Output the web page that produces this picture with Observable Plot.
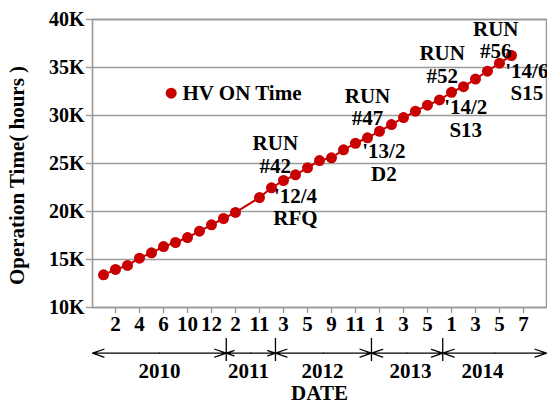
<!DOCTYPE html>
<html><head><meta charset="utf-8">
<script src="https://cdn.jsdelivr.net/npm/d3@7"></script>
<script src="https://cdn.jsdelivr.net/npm/@observablehq/plot@0.6"></script>
<style>
body{margin:0;background:#fff}
#chart svg{display:block}
</style>
</head><body><div id="chart"></div>
<script>
// month slots (one per measurement, slot 12 has no reading)
const slots = [0,1,2,3,4,5,6,7,8,9,10,11,13,14,15,16,17,18,19,20,21,22,23,24,25,26,27,28,29,30,31,32,33,34];
const hvOnHours = [13400,13960,14380,15140,15700,16350,16770,17290,17950,18610,19270,19900,
  21450,22470,23230,23820,24550,25310,25590,26430,27110,27680,
  28360,29060,29780,30450,31070,31620,32420,33000,33800,34620,35450,36250];

const tickSlots = [1,3,5,7,9,11,13,15,17,19,21,23,25,27,29,31,33,35];
const tickLabels = ["2","4","6","10","12","2","11","3","5","9","11","1","3","5","1","3","5","7"];
const yTicks = [10000,15000,20000,25000,30000,35000,40000];

const years = ["2010","2011","2012","2013","2014"];
const yearBreaks = [10.23, 14.33, 22.33, 28.27];
const yearCenters = [4.66, 12.08, 18.25, 25.58, 31.58];

const annoText = ["RUN\n#42","'12/4\nRFQ","RUN\n#47","'13/2\nD2","RUN\n#52","'14/2\nS13","RUN\n#56","'14/6\nS15"];
const annoSlot = [14.32,16.0,22.0,23.36,28.22,30.19,32.69,35.28];
const annoHours = [25953,20484,30906,25141,35328,29708,37896,33521];

const xDomain = [-0.917, 36.917];
const red = "#c80000";
const grey = "#9a9a9a";
const font = {fontFamily: "Liberation Serif, Times New Roman, serif", fontWeight: "bold", fontSize: "21px", background: "#fff"};

const points = slots.map((s, i) => ({slot: s, hours: hvOnHours[i]}));
const annos = annoText.map((t, i) => ({text: t, slot: annoSlot[i], hours: annoHours[i]}));

const main = Plot.plot({
  width: 547, height: 335,
  marginLeft: 92, marginRight: 1, marginTop: 19, marginBottom: 28,
  style: font,
  x: {domain: xDomain},
  y: {domain: [10000, 40000]},
  marks: [
    Plot.gridY(yTicks, {stroke: grey, strokeOpacity: 1, strokeWidth: 1.4}),
    Plot.frame({stroke: grey, strokeWidth: 1.6}),
    Plot.axisY({ticks: yTicks, tickFormat: d => d / 1000 + "K", tickSize: 6, tickPadding: 2, stroke: grey, strokeWidth: 1.4, fill: "black", fontSize: 20, label: null}),
    Plot.axisX({ticks: tickSlots, tickFormat: d => tickLabels[tickSlots.indexOf(d)], tickSize: 6, tickPadding: 3, stroke: grey, strokeWidth: 1.4, fill: "black", label: null}),
    Plot.text(["Operation Time( hours )"], {frameAnchor: "left", textAnchor: "middle", lineAnchor: "middle", dx: -75, dy: 12, rotate: -90, fontSize: 21, fill: "black"}),
    Plot.line(points, {x: "slot", y: "hours", stroke: red, strokeWidth: 2}),
    Plot.dot(points, {x: "slot", y: "hours", r: 5.5, fill: red, stroke: "none"}),
    Plot.text(annos, {x: "slot", y: "hours", text: "text", lineHeight: 1.07, fill: "black"}),
    Plot.dot([0], {frameAnchor: "top-left", dx: 78.7, dy: 73.7, r: 5.5, fill: red, stroke: "none"}),
    Plot.text(["HV ON Time"], {frameAnchor: "top-left", dx: 90, dy: 73.7, textAnchor: "start", lineAnchor: "middle", fill: "black"})
  ]
});

const segStart = [xDomain[0], ...yearBreaks];
const segEnd = [...yearBreaks, xDomain[1]];
const arrows = [];
years.forEach((y, i) => {
  const mid = (segStart[i] + segEnd[i]) / 2;
  arrows.push({x1: mid, x2: segStart[i]});
  arrows.push({x1: mid, x2: segEnd[i]});
});
const yearRows = years.map((y, i) => ({year: y, slot: yearCenters[i]}));

const band = Plot.plot({
  width: 547, height: 70,
  marginLeft: 92, marginRight: 1, marginTop: 0, marginBottom: 0,
  style: font,
  x: {domain: xDomain, axis: null},
  y: {type: "band", domain: ["arrows", "years", "title"], range: [3, 72], padding: 0, axis: null},
  marks: [
    Plot.arrow(arrows, {x1: "x1", x2: "x2", y1: () => "arrows", y2: () => "arrows", dy: 3.2, stroke: "black", strokeWidth: 1.3, headLength: 14, headAngle: 38}),
    Plot.tickX(yearBreaks, {x: d => d, y: () => "arrows", stroke: "black", strokeWidth: 1.3}),
    Plot.text(yearRows, {x: "slot", y: () => "years", text: "year", dy: -1.8, fill: "black"}),
    Plot.text(["DATE"], {y: () => "title", dy: -2.5, fill: "black"})
  ]
});

const root = document.getElementById("chart");
root.append(main, band);
</script>
</body></html>
